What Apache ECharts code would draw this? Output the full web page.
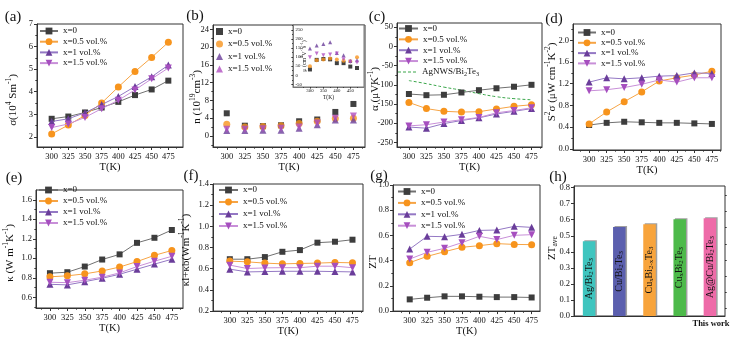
<!DOCTYPE html>
<html><head><meta charset="utf-8">
<script src="https://cdn.jsdelivr.net/npm/echarts@6/dist/echarts.min.js"></script>
<style>html,body{margin:0;padding:0;background:#fff}#c{width:738px;height:338px}</style>
</head><body><div id="c"></div>
<script>
// ---------------- data ----------------
const temperatures = [300, 325, 350, 375, 400, 425, 450, 475];
const seriesNames = ['x=0', 'x=0.5 vol.%', 'x=1 vol.%', 'x=1.5 vol.%'];
const xTicks = [300, 325, 350, 375, 400, 425, 450, 475];

// (a) sigma (10^4 S/m)
const sigma_x0  = [2.80, 2.90, 3.08, 3.30, 3.55, 3.85, 4.10, 4.49];
const sigma_x05 = [2.13, 2.52, 2.95, 3.50, 4.21, 4.89, 5.52, 6.19];
const sigma_x1  = [2.68, 2.80, 3.07, 3.43, 3.79, 4.23, 4.66, 5.18];
const sigma_x15 = [2.41, 2.57, 2.86, 3.25, 3.62, 4.08, 4.57, 5.05];
const yTicks_a = [2, 3, 4, 5, 6, 7];

// (b) carrier concentration n (10^19 cm^-3)
const n_x0  = [5.1, 2.3, 2.2, 2.4, 3.3, 3.7, 5.4, 7.2];
const n_x05 = [2.6, 2.0, 2.1, 2.3, 2.8, 3.3, 3.9, 4.0];
const n_x1  = [1.2, 1.2, 1.3, 1.3, 1.7, 2.5, 3.6, 3.6];
const n_x15 = [1.5, 1.5, 1.6, 1.7, 2.0, 2.9, 4.0, 4.5];
const yTicks_b = [0, 4, 8, 12, 16, 20, 24];
// (b) inset: mobility
const mu_x0  = [32, 85, 90, 88, 67, 67, 48, 40];
const mu_x05 = [50, 83, 87, 92, 87, 80, 78, 100];
const mu_x1  = [148, 165, 173, 182, 123, 111, 79, 83];
const mu_x15 = [100, 120, 110, 115, 120, 88, 75, 70];
const xTicks_inset = [300, 350, 400, 450];
const yTicks_inset = [-50, 0, 50, 100, 150, 200, 250];

// (c) Seebeck coefficient
const alpha_x0  = [-124, -127, -126, -120, -114, -109, -105, -100];
const alpha_x05 = [-146, -162, -169, -171, -170, -163, -156, -152];
const alpha_x1  = [-210, -213, -201, -193, -186, -176, -169, -162];
const alpha_x15 = [-207, -204, -197, -191, -185, -173, -167, -160];
const alpha_AgNWS = [-89, -97, -106, -114, -123, -131, -136, -139];
const yTicks_c = [-250, -200, -150, -100, -50, 0, 50];

// (d) power factor
const pf_x0  = [0.44, 0.48, 0.50, 0.49, 0.48, 0.48, 0.47, 0.46];
const pf_x05 = [0.46, 0.68, 0.87, 1.05, 1.25, 1.31, 1.36, 1.43];
const pf_x1  = [1.23, 1.31, 1.29, 1.31, 1.34, 1.35, 1.40, 1.39];
const pf_x15 = [1.07, 1.09, 1.13, 1.19, 1.27, 1.23, 1.31, 1.31];
const yTicks_d = [0.0, 0.4, 0.8, 1.2, 1.6, 2.0];

// (e) thermal conductivity
const kappa_x0  = [0.847, 0.857, 0.915, 0.987, 1.04, 1.158, 1.21, 1.29];
const kappa_x05 = [0.81, 0.82, 0.84, 0.87, 0.91, 0.966, 1.03, 1.08];
const kappa_x1  = [0.733, 0.727, 0.76, 0.795, 0.836, 0.888, 0.94, 0.99];
const kappa_x15 = [0.754, 0.75, 0.775, 0.806, 0.85, 0.915, 0.97, 1.02];
const yTicks_e = [0.6, 0.8, 1.0, 1.2, 1.4, 1.6];

// (f) kl + kb
const klb_x0  = [0.69, 0.69, 0.71, 0.76, 0.776, 0.846, 0.855, 0.874];
const klb_x05 = [0.672, 0.665, 0.653, 0.646, 0.65, 0.653, 0.659, 0.656];
const klb_x1  = [0.596, 0.57, 0.573, 0.576, 0.576, 0.576, 0.573, 0.57];
const klb_x15 = [0.634, 0.602, 0.608, 0.61, 0.61, 0.624, 0.624, 0.61];
const yTicks_f = [0.2, 0.4, 0.6, 0.8, 1.0, 1.2, 1.4];

// (g) ZT
const zt_x0  = [0.093, 0.106, 0.117, 0.117, 0.114, 0.111, 0.111, 0.108];
const zt_x05 = [0.384, 0.434, 0.471, 0.506, 0.519, 0.535, 0.529, 0.527];
const zt_x1  = [0.492, 0.593, 0.59, 0.609, 0.64, 0.643, 0.672, 0.664];
const zt_x15 = [0.413, 0.466, 0.498, 0.543, 0.593, 0.567, 0.601, 0.606];
const yTicks_g = [0.0, 0.2, 0.4, 0.6, 0.8, 1.0];

// (h) ZT average
const materials = ['Ag/Bi2Te3', 'Cu/Bi2Te3', 'CuxBi2-xTe3', 'CuxBi2Te3', 'Ag@Cu/Bi2Te3'];
const ztAve = [0.466, 0.555, 0.572, 0.603, 0.609];
const yTicks_h = [0.0, 0.1, 0.2, 0.3, 0.4, 0.5, 0.6, 0.7, 0.8];

// ---------------- styling ----------------
const FONT = 'Liberation Serif';
const TXT = '#111';
const AX = '#333';
const GREEN = '#3aa64a';
const markerColors = ['#3d3d3d', '#f7941d', '#6a3d9a', '#a64fbf'];
const lineColors = ['#707070', '#f6a445', '#9478c4', '#c88fd8'];
const scatterColors = ['#111111', '#f7941d', '#6a3d9a', '#b04fc0'];
const symbolDefs = [['rect', 6, 0], ['circle', 7, 0], ['triangle', 7, 0], ['triangle', 7, 180]];
const barColors = ['#3fc5bf', '#5b5fae', '#f8a43c', '#4dba4a', '#ee6ba8'];

const grids = [], xAxes = [], yAxes = [], series = [], legends = [], graphics = [];

function minorOf(ticks, lo, hi) {
  const step = ticks[1] - ticks[0];
  const out = [];
  for (let i = -1; i < ticks.length; i++) {
    const v = (i < 0 ? ticks[0] - step : ticks[i]) + step / 2;
    if (v > lo && v < hi) out.push(+v.toFixed(6));
  }
  return out;
}

function richStyles(fs, isZr) {
  const c = isZr ? { fill: TXT } : { color: TXT };
  return {
    sup: Object.assign({ fontFamily: FONT, fontSize: fs * 0.68, lineHeight: fs * 0.55, verticalAlign: 'top' }, c),
    sub: Object.assign({ fontFamily: FONT, fontSize: fs * 0.68, lineHeight: fs * 0.55, verticalAlign: 'bottom' }, c)
  };
}

function addAxes(o) {
  const gi = grids.length;
  grids.push({ left: o.box[0], top: o.box[1], width: o.box[2], height: o.box[3], show: true,
    borderColor: o.border || AX, borderWidth: 1, backgroundColor: o.bg || 'transparent' });
  const fs = o.labelSize || 8.5;
  const xi = xAxes.length;
  xAxes.push({
    type: 'value', gridIndex: gi, position: 'bottom', min: o.x[0], max: o.x[1],
    axisLine: { show: true, onZero: false, lineStyle: { color: o.border || AX, width: 1 } },
    axisTick: { show: true, customValues: o.xTicks, length: o.tickLen || 3, lineStyle: { color: AX } },
    axisLabel: { customValues: o.xTicks, fontFamily: FONT, fontSize: fs, color: TXT, margin: o.xMargin || 5 },
    splitLine: { show: false },
    name: 'T(K)', nameLocation: 'middle', nameGap: o.xNameGap || 11,
    nameTextStyle: { fontFamily: FONT, fontSize: o.nameSize || 10.5, color: TXT }
  });
  xAxes.push({
    type: 'value', gridIndex: gi, position: 'bottom', min: o.x[0], max: o.x[1],
    axisLine: { show: false, onZero: false }, axisLabel: { show: false }, splitLine: { show: false },
    axisTick: { show: true, customValues: minorOf(o.xTicks, o.x[0], o.x[1]), length: (o.tickLen || 3) * 0.55, lineStyle: { color: AX } }
  });
  const yi = yAxes.length;
  yAxes.push({
    type: 'value', gridIndex: gi, position: 'left', min: o.y[0], max: o.y[1],
    axisLine: { show: true, onZero: false, lineStyle: { color: o.border || AX, width: 1 } },
    axisTick: { show: true, customValues: o.yTicks, length: o.tickLen || 3, lineStyle: { color: AX } },
    axisLabel: { customValues: o.yTicks, fontFamily: FONT, fontSize: fs, color: TXT, margin: o.yMargin || 4,
      inside: !!o.yInside, formatter: o.yFmt || (v => String(v)) },
    splitLine: { show: false }
  });
  yAxes.push({
    type: 'value', gridIndex: gi, position: 'left', min: o.y[0], max: o.y[1],
    axisLine: { show: false, onZero: false }, axisLabel: { show: false }, splitLine: { show: false },
    axisTick: { show: true, customValues: minorOf(o.yTicks, o.y[0], o.y[1]), length: (o.tickLen || 3) * 0.55, lineStyle: { color: AX } }
  });
  return { xi, yi };
}

function addLines(key, ax, sets, withLines) {
  sets.forEach((vals, k) => {
    const s = {
      type: withLines ? 'line' : 'scatter',
      name: key + '::' + seriesNames[k],
      xAxisIndex: ax.xi, yAxisIndex: ax.yi,
      data: temperatures.map((t, i) => [t, vals[i]]),
      symbol: symbolDefs[k][0], symbolSize: symbolDefs[k][1], symbolRotate: symbolDefs[k][2],
      itemStyle: { color: withLines ? markerColors[k] : scatterColors[k] },
      z: 3 + k, animation: false
    };
    if (withLines) { s.lineStyle = { color: lineColors[k], width: 1 }; s.showSymbol = true; }
    series.push(s);
  });
}

function addLegend(key, left, top, gap, iw, ih) {
  legends.push({
    left, top, orient: 'vertical', padding: 0, itemGap: gap, itemWidth: iw, itemHeight: ih,
    selectedMode: false, data: seriesNames.map(n => key + '::' + n),
    formatter: n => n.split('::')[1],
    textStyle: { fontFamily: FONT, fontSize: 9, color: TXT, lineHeight: 10 }
  });
}

function text(x, y, str, fs, opts) {
  opts = opts || {};
  graphics.push({
    type: 'text', x, y, rotation: opts.rot || 0, z: 100,
    style: Object.assign({ text: str, fontFamily: FONT, fontSize: fs, fill: TXT, align: opts.align || 'center',
      verticalAlign: 'middle', lineHeight: fs + 3, fontWeight: opts.bold ? 'bold' : 'normal',
      rich: richStyles(fs, true) }, opts.style || {})
  });
}
const V = Math.PI / 2;

// (a)
let ax = addAxes({ box: [37, 24, 146, 123], x: [278, 497], y: [1.55, 7], xTicks, yTicks: yTicks_a });
addLines('a', ax, [sigma_x0, sigma_x05, sigma_x1, sigma_x15], true);
addLegend('a', 39, 26, 0.7, 18, 8.5);
text(13, 100, 'σ(10{sup|4} Sm{sup|-1})', 11, { rot: V });

// (b)
ax = addAxes({ box: [213, 25, 152, 122], x: [281, 491], y: [-2.5, 25], xTicks, yTicks: yTicks_b, xNameGap: 12 });
addLines('b', ax, [n_x0, n_x05, n_x1, n_x15], false);
addLegend('b', 216, 26.5, 2.5, 7, 7);
text(197, 97, 'n (10{sup|19}cm{sup|-3})', 11, { rot: V });
// inset
ax = addAxes({ box: [293, 25, 71, 62], x: [237, 501], y: [-65, 278], xTicks: xTicks_inset, yTicks: yTicks_inset,
  labelSize: 4.8, tickLen: 1.6, xMargin: 1.5, yMargin: 2.5, yInside: true, nameSize: 5.5, xNameGap: 6, bg: '#fff', border: '#777' });
addLines('inset', ax, [mu_x0, mu_x05, mu_x1, mu_x15], false);
series.slice(-4).forEach(s => { s.symbolSize = 4; });
text(304, 56, 'μ (cm{sup|2}V{sup|-1}s{sup|-1})', 6, { rot: V });

// (c)
ax = addAxes({ box: [397, 23, 145, 124], x: [283, 490], y: [-262, 61], xTicks, yTicks: yTicks_c });
addLines('c', ax, [alpha_x0, alpha_x05, alpha_x1, alpha_x15], true);
series.push({ type: 'line', name: 'AgNWS/Bi2Te3', xAxisIndex: ax.xi, yAxisIndex: ax.yi, smooth: true, showSymbol: false,
  symbol: 'none', data: temperatures.map((t, i) => [t, alpha_AgNWS[i]]),
  lineStyle: { color: GREEN, width: 1, type: [3, 2] }, itemStyle: { color: GREEN }, z: 2, animation: false });
addLegend('c', 398, 23.5, 0.85, 19, 8.5);
// legend entry for the reference curve (dashed line only)
graphics.push({ type: 'line', z: 100, shape: { x1: 398, y1: 72, x2: 417, y2: 72 },
  style: { stroke: GREEN, lineWidth: 1, lineDash: [3, 2] } });
text(422, 72, 'AgNWS/Bi{sub|2}Te{sub|3}', 9, { align: 'left', style: { lineHeight: 10 } });
text(375, 89, 'α (μVK{sup|-1})', 11, { rot: V });

// (d)
ax = addAxes({ box: [573, 24, 148, 126], x: [277, 488], y: [-0.02, 2.3], xTicks, yTicks: yTicks_d, xNameGap: 10,
  yFmt: v => v.toFixed(1) });
addLines('d', ax, [pf_x0, pf_x05, pf_x1, pf_x15], true);
addLegend('d', 577, 27.5, 0.3, 18, 8.5);
text(552, 82, 'S{sup|2}σ (μW cm{sup|-1}K{sup|-2})', 11, { rot: V });

// (e)
ax = addAxes({ box: [36, 190, 147, 118], x: [280, 491], y: [0.49, 1.7], xTicks, yTicks: yTicks_e, yFmt: v => v.toFixed(1) });
addLines('e', ax, [kappa_x0, kappa_x05, kappa_x1, kappa_x15], true);
addLegend('e', 38, 185, 1, 19, 8.5);
text(10, 253, 'κ (W m{sup|-1}K{sup|-1})', 11, { rot: V });

// (f)
ax = addAxes({ box: [213, 184, 150, 128], x: [276, 490], y: [0.2, 1.4], xTicks, yTicks: yTicks_f, yFmt: v => v.toFixed(1) });
addLines('f', ax, [klb_x0, klb_x05, klb_x1, klb_x15], true);
addLegend('f', 218, 185, 2, 19, 8.5);
text(186, 250, 'κl+κb(Wm{sup|-1}K{sup|-1})', 11, { rot: V });

// (g)
ax = addAxes({ box: [393, 185, 147, 127], x: [276, 487], y: [0, 1.0], xTicks, yTicks: yTicks_g, yFmt: v => v.toFixed(1) });
addLines('g', ax, [zt_x0, zt_x05, zt_x1, zt_x15], true);
addLegend('g', 397, 186.5, 1.4, 18, 8.5);
text(373, 262, 'ZT', 11, { rot: V });

// (h)
{
  const gi = grids.length;
  grids.push({ left: 574, top: 186, width: 151, height: 130, show: true, borderColor: AX, borderWidth: 1, backgroundColor: 'transparent' });
  const xi = xAxes.length;
  xAxes.push({ type: 'category', gridIndex: gi, data: materials, axisLine: { onZero: false, lineStyle: { color: AX } },
    axisTick: { show: false }, axisLabel: { show: false } });
  const yi = yAxes.length;
  yAxes.push({ type: 'value', gridIndex: gi, min: 0, max: 0.81,
    axisLine: { show: true, onZero: false, lineStyle: { color: AX } },
    axisTick: { show: true, customValues: yTicks_h, length: 3, lineStyle: { color: AX } },
    axisLabel: { customValues: yTicks_h, fontFamily: FONT, fontSize: 8.5, color: TXT, margin: 4, formatter: v => v.toFixed(1) },
    splitLine: { show: false } });
  yAxes.push({ type: 'value', gridIndex: gi, min: 0, max: 0.81, axisLine: { show: false, onZero: false }, axisLabel: { show: false },
    splitLine: { show: false },
    axisTick: { show: true, customValues: minorOf(yTicks_h, 0, 0.81), length: 1.7, lineStyle: { color: AX } } });
  const toRich = s => s.replace(/(Cu|Bi|Te)(2-x|\d|x)/g, '$1{s|$2}');
  series.push({ type: 'bar', xAxisIndex: xi, yAxisIndex: yi, barWidth: 12.5, animation: false,
    data: ztAve.map((v, i) => ({ value: v, itemStyle: { color: barColors[i] } })),
    itemStyle: { shadowColor: 'rgba(120,120,120,0.7)', shadowOffsetX: 1.5, shadowOffsetY: -1, shadowBlur: 0 },
    label: { show: true, position: 'inside', rotate: 90, fontFamily: FONT, fontSize: 10, color: TXT, lineHeight: 11,
      formatter: p => toRich(p.name),
      rich: { s: { fontFamily: FONT, fontSize: 6.8, lineHeight: 5, verticalAlign: 'bottom', color: TXT } } } });
  text(552, 248, 'ZT{sub|ave}', 11, { rot: V });
  text(711, 324, 'This work', 8.5, { bold: true });
}

// panel letters
[['(a)', 13, 17], ['(b)', 195, 16], ['(c)', 377, 17], ['(d)', 554, 19],
 ['(e)', 14, 178], ['(f)', 191, 176], ['(g)', 379, 176], ['(h)', 558, 177]].forEach(p => text(p[1], p[2], p[0], 15));

const chart = echarts.init(document.getElementById('c'), null, { renderer: 'canvas' });
chart.setOption({
  animation: false,
  textStyle: { fontFamily: FONT },
  grid: grids, xAxis: xAxes, yAxis: yAxes, series, legend: legends, graphic: graphics
});
</script></body></html>
